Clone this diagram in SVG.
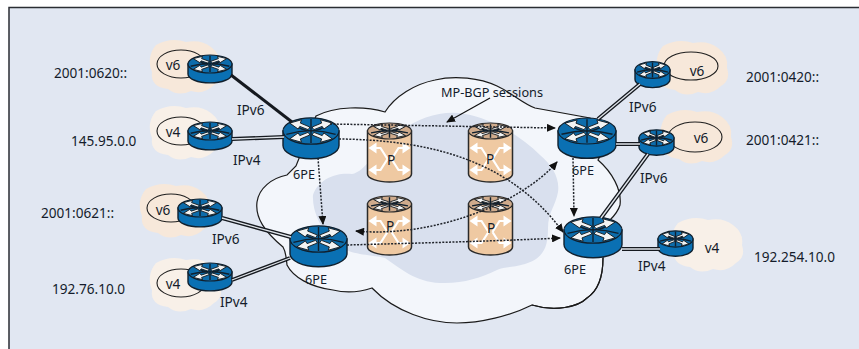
<svg xmlns="http://www.w3.org/2000/svg" width="859" height="349" viewBox="0 0 859 349">
<style>
text{font-family:"Noto Sans","Open Sans",sans-serif;font-size:13.6px;fill:#141c2b}
.s{font-size:12.7px}
.m{text-anchor:middle}
.net{fill:none;stroke:#1a1a1a;stroke-width:1.2}
.o{stroke:#15191f;stroke-width:4;fill:none}
.i{stroke:#dfe4ea;stroke-width:1.3;fill:none}
.d{stroke:#20242b;stroke-width:1.5;stroke-dasharray:2 1.4;fill:none;marker-end:url(#a)}
.body{fill:#0a70b3;stroke:#10202e;stroke-width:1.4;vector-effect:non-scaling-stroke}
.top{fill:#0d6cab;stroke:#10202e;stroke-width:1.2;vector-effect:non-scaling-stroke}
.xl{stroke:#10202e;stroke-width:1.4;fill:none;vector-effect:non-scaling-stroke}
.xa{fill:#f2f3f3;stroke:#10151a;stroke-width:.9;vector-effect:non-scaling-stroke}
.pb{fill:#efc9a2;stroke:#2a2a2a;stroke-width:1.5}
.pt{fill:#cfab8c;stroke:#2a2a2a;stroke-width:1.2;vector-effect:non-scaling-stroke}
.pl{stroke:#fff;stroke-width:2.2;fill:none}
.ph{fill:#fff}
.h1{fill:#f7e8da}
.h2{fill:#f8f0e8}
.e{fill:none;stroke:#1f1f1f;stroke-width:1.1}
</style>
<defs>
<marker id="a" markerWidth="10" markerHeight="8" refX="8" refY="4" orient="auto" markerUnits="userSpaceOnUse"><path d="M0 0L9 4L0 8Z" fill="#111"/></marker>
<marker id="b" markerWidth="10" markerHeight="8" refX="1" refY="4" orient="auto" markerUnits="userSpaceOnUse"><path d="M9 0L0 4L9 8Z" fill="#111"/></marker>
<path id="halo" d="M-30-22Q-15-30 0-25Q15-28 25-20Q36-12 34 0Q38 12 28 18Q18 28 5 24Q-8 30-18 22Q-36 20-34 5Q-40-10-30-22Z"/>
<path id="ar" class="xa" d="M-5-2L-20-7L-23-3L-38-12L-17-17L-19-12L-2-6Z"/>
<g id="x">
<path class="xl" d="M-44 5Q0-6 44 5M-34-12Q0 12 34-12M0-18V18"/>
<use href="#ar"/>
<use href="#ar" transform="scale(-1 1)"/>
<use href="#ar" transform="scale(1 -1)"/>
<use href="#ar" transform="scale(-1 -1)"/>
</g>
<g id="r">
<path class="body" d="M-50 0V22A50 20 0 0 0 50 22V0Z"/>
<ellipse class="top" rx="50" ry="20"/>
<use href="#x"/>
</g>
<g id="p">
<path class="pb" d="M-22 8V51A22 8 0 0 0 22 51V8Z"/>
<ellipse class="pt" cy="8" rx="22" ry="8"/>
<use href="#x" transform="translate(0 8) scale(.42 .38)"/>
<path class="pl" d="M-2 36L-9 25H-14M2 36L9 25H14M-2 36L-9 47H-14M2 36L9 47H14"/>
<path class="ph" d="M-21 25L-13 19.500V30.500ZM21 25L13 19.500V30.500ZM-21 47L-13 41.500V52.500ZM21 47L13 41.500V52.500Z"/>
</g>
</defs>

<rect width="859" height="349" fill="#fff"/>
<rect x="9" y="7" width="850" height="342" fill="#e1e7f2"/>
<path d="M9 349V7.500H859" fill="none" stroke="#2a2d33" stroke-width="1.5"/>

<g id="core">
<path class="net" style="fill:#f3f6fb" d="M316 116C335 106 365 106 385 112C395 96 415 84 435 80C455 75 480 78 497 86C512 93 522 103 535 108L590 118C606 135 604 150 598 160C612 172 622 190 620 205C618 212 614 216 610 220L603 258C603 280 596 292 587 298C578 307 555 312 532 305C510 316 480 323 457 323C430 323 395 312 372 288C360 292 345 293 333 290C310 287 293 277 287 265C286 256 286 252 283 247C265 232 255 218 257 202C259 188 272 178 287 175L296 166L316 116Z"/>
<path fill="#d9e0ee" d="M313 195C318 180 335 172 352 174C365 172 375 150 400 132C420 116 445 110 465 114C490 118 520 135 540 155C552 165 560 178 558 192C556 205 548 212 548 228C548 245 545 258 525 264C512 268 505 266 497 270C480 278 462 284 440 283C415 282 400 268 385 258C370 254 345 256 332 240C320 228 312 210 313 195Z"/>
<path class="net" d="M603 258C603 280 596 292 587 298C578 307 555 312 532 305"/>
</g>

<g id="n-v6-a"><use href="#halo" class="h1" transform="translate(186 67)"/><ellipse class="e" cx="181" cy="64" rx="24" ry="14"/><use href="#r" transform="translate(210 64) scale(.44 .45)"/><text x="173" y="70" class="m">v6</text><text x="54" y="78">2001:0620::</text></g>
<g id="n-v4-a"><use href="#halo" class="h2" transform="translate(186 133)"/><ellipse class="e" cx="181" cy="131" rx="24" ry="14"/><use href="#r" transform="translate(210 131) scale(.44 .45)"/><text x="173" y="137" class="m">v4</text><text x="71" y="146">145.95.0.0</text></g>
<g id="n-v6-b"><use href="#halo" class="h1" transform="translate(176 211)"/><ellipse class="e" cx="171" cy="208" rx="24" ry="14"/><use href="#r" transform="translate(200 208) scale(.44 .45)"/><text x="163" y="215" class="m">v6</text><text x="41" y="218">2001:0621::</text></g>
<g id="n-v4-b"><use href="#halo" class="h2" transform="translate(186 285)"/><ellipse class="e" cx="181" cy="283" rx="24" ry="14"/><use href="#r" transform="translate(210 272) scale(.44 .45)"/><text x="173" y="289" class="m">v4</text><text x="52" y="294">192.76.10.0</text></g>
<g id="n-v6-c"><use href="#halo" class="h1" transform="translate(693 68)"/><ellipse class="e" cx="691" cy="66" rx="27" ry="14"/><use href="#r" transform="translate(652.500 70) scale(.35 .42)"/><text x="697" y="76" class="m">v6</text><text x="746" y="82">2001:0420::</text></g>
<g id="n-v6-d"><use href="#halo" class="h1" transform="translate(697 137)"/><ellipse class="e" cx="695" cy="137" rx="27" ry="15"/><use href="#r" transform="translate(656.500 138) scale(.35 .41)"/><text x="701" y="143" class="m">v6</text><text x="746" y="145">2001:0421::</text></g>
<g id="n-v4-c"><use href="#halo" class="h2" transform="translate(708 245)"/><use href="#r" transform="translate(675.500 239) scale(.35 .41)"/><text x="712" y="253" class="m">v4</text><text x="754" y="262">192.254.10.0</text></g>

<g id="n-pe1"><use href="#r" transform="translate(311 131) scale(.56 .66)"/><text x="304" y="179" class="m s">6PE</text></g>
<g id="n-pe2"><use href="#r" transform="translate(587 131) scale(.58 .65)"/><text x="583" y="175" class="m s">6PE</text></g>
<g id="n-pe3"><use href="#r" transform="translate(318.500 239) scale(.57 .66)"/><text x="316" y="284" class="m s">6PE</text></g>
<g id="n-pe4"><use href="#r" transform="translate(593 230) scale(.58 .66)"/><text x="575" y="274" class="m s">6PE</text></g>

<g id="n-p1"><use href="#p" transform="translate(389.500 123)"/><text x="391" y="165" class="m">P</text></g>
<g id="n-p2"><use href="#p" transform="translate(490.500 123)"/><text x="490" y="164" class="m">P</text></g>
<g id="n-p3"><use href="#p" transform="translate(389.500 196)"/><text x="390" y="231" class="m">P</text></g>
<g id="n-p4"><use href="#p" transform="translate(490.500 196)"/><text x="491" y="233" class="m">P</text></g>

<g id="connectors">
<path d="M231 75L292 122" stroke="#15191f" stroke-width="3" fill="none"/>
<path class="o" d="M232 139L284 137M640 84L598 119M616 144H640M648 154L601 218M622 249H660M222 218L291 237M232 280L290 258"/>
<path class="i" d="M232 139L284 137M640 84L598 119M616 144H640M648 154L601 218M622 249H660M222 218L291 237M232 280L290 258"/>
<path class="d" d="M330 124L555 128"/>
<path class="d" d="M339 139C430 140 510 160 563 232"/>
<path class="d" d="M318 158L323 224"/>
<path class="d" d="M573 158L574 216"/>
<path class="d" d="M347 245C420 243 500 241 560 238"/>
<path class="d" style="marker-start:url(#b)" d="M356 231C430 238 520 205 557 162"/>
<path d="M490 98L447 122" stroke="#111" stroke-width="1.2" fill="none" marker-end="url(#a)"/>
</g>

<g id="labels">
<text x="441" y="97" class="s">MP-BGP sessions</text>
<text x="237" y="115">IPv6</text>
<text x="233" y="165">IPv4</text>
<text x="212" y="244">IPv6</text>
<text x="220" y="307">IPv4</text>
<text x="629" y="112">IPv6</text>
<text x="640" y="183">IPv6</text>
<text x="638" y="271">IPv4</text>
</g>
</svg>
